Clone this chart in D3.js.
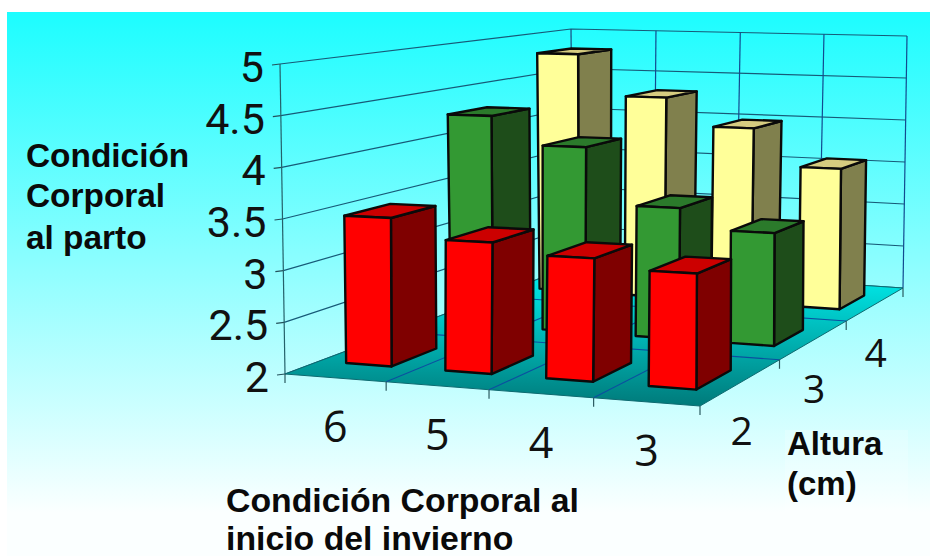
<!DOCTYPE html>
<html><head><meta charset="utf-8">
<style>html,body{margin:0;padding:0;background:#fff}svg{display:block}</style>
<script src="https://cdn.jsdelivr.net/npm/d3@7/dist/d3.min.js"></script>
</head><body>
<svg id="c" width="930" height="556"></svg>
<script>
const categories = ["6","5","4","3"];
const alturas = ["2","3","4"];
const valuesAltura2 = [3.46,3.27,3.17,3.08];
const valuesAltura3 = [4.27,3.97,3.37,3.16];
const valuesAltura4 = [4.80,4.32,4.00,3.58];
const valueTicks = [2,2.5,3,3.5,4,4.5,5];
const yTitle = ["Condición","Corporal","al parto"];
const xTitle = ["Condición Corporal al","inicio del invierno"];
const zTitle = ["Altura","(cm)"];

const series = [valuesAltura2,valuesAltura3,valuesAltura4];
const palette = [
 {front:"#ff0000",side:"#7f0000",top:"#cc0000"},
 {front:"#339933",side:"#1e4d1a",top:"#2b7a2b"},
 {front:"#ffff99",side:"#80804d",top:"#d6cc80"}];

function homography(q){ // unit square -> quad (00,10,11,01)
  const [[x0,y0],[x1,y1],[x2,y2],[x3,y3]]=q;
  const dx1=x1-x2,dx2=x3-x2,sx=x0-x1+x2-x3,dy1=y1-y2,dy2=y3-y2,sy=y0-y1+y2-y3;
  const den=dx1*dy2-dx2*dy1;
  const g=(sx*dy2-dx2*sy)/den,h=(dx1*sy-sx*dy1)/den;
  const a=x1-x0+g*x1,b=x3-x0+h*x3,c=x0,d=y1-y0+g*y1,e=y3-y0+h*y3,f=y0;
  return (u,v)=>{const w=g*u+h*v+1;return [(a*u+b*v+c)/w,(d*u+e*v+f)/w];};
}
const floorH = homography([[285,374],[700,406],[903,288],[573,266]]);
const topH   = homography([[280,64],[701,72],[907,36],[571,29]]);

const xBand = d3.scaleBand().domain(categories).range([0,1]).paddingInner(0.54).paddingOuter(0.27);
const zBand = d3.scaleBand().domain(alturas).range([0,1]).paddingInner(0.58).paddingOuter(0.29);
const xEdge = d3.scaleLinear().domain([0,categories.length]).range([0,1]);
const zEdge = d3.scaleLinear().domain([0,alturas.length]).range([0,1]);
const h01 = d3.scaleLinear().domain([2,5]).range([0,1]);
function P(u,d,val){
  const a=floorH(u,d),b=topH(u,d),t=h01(val);
  return [a[0]+(b[0]-a[0])*t,a[1]+(b[1]-a[1])*t];
}
const line=d3.line();
const svg=d3.select("#c");
const defs=svg.append("defs");
const bg=defs.append("linearGradient").attr("id","bg").attr("x1",0).attr("x2",0).attr("y1",0).attr("y2",1);
bg.append("stop").attr("offset",0).attr("stop-color","#1cfdff");
bg.append("stop").attr("offset",0.92).attr("stop-color","#fbffff");
const fl=defs.append("linearGradient").attr("id","fl").attr("gradientUnits","userSpaceOnUse").attr("x1",0).attr("x2",0).attr("y1",266).attr("y2",406);
fl.append("stop").attr("offset",0).attr("stop-color","#00f2f2");
fl.append("stop").attr("offset",1).attr("stop-color","#007a7a");

svg.append("rect").attr("x",7).attr("y",12).attr("width",923).attr("height",544).attr("fill","url(#bg)");
svg.append("rect").attr("x",785).attr("y",430).attr("width",123).attr("height",102).attr("fill","#fff").attr("opacity",0.2);

const gridCol="#175a78";
const grid=svg.append("g").attr("fill","none").attr("stroke",gridCol).attr("stroke-width",1.2);
grid.selectAll("path.v").data(valueTicks).join("path").attr("class","v")
  .attr("d",v=>line([P(0,0,v),P(0,1,v),P(1,1,v)]));
grid.selectAll("line.tick").data(valueTicks).join("line").attr("class","tick")
  .attr("x1",v=>P(0,0,v)[0]-8).attr("y1",v=>P(0,0,v)[1]+1)
  .attr("x2",v=>P(0,0,v)[0]).attr("y2",v=>P(0,0,v)[1]).attr("stroke","#24505a");
grid.append("path").attr("d",line([P(0,0,2),P(0,0,5)])).attr("stroke","#24606a");
grid.append("path").attr("d",line([P(0,1,2),P(0,1,5)])).attr("stroke","#1a4a80");
grid.selectAll("path.vb").data(d3.range(1,categories.length+1)).join("path").attr("class","vb")
  .attr("stroke","#124a90")
  .attr("d",i=>line([P(xEdge(i),1,2),P(xEdge(i),1,5)]));

svg.append("path").attr("d",line([P(0,0,2),P(1,0,2),P(1,1,2),P(0,1,2)])+"Z").attr("fill","url(#fl)").attr("stroke","#0d6a70").attr("stroke-width",1);
const fg=svg.append("g").attr("fill","none").attr("stroke","#0b4fa0").attr("stroke-width",1.1);
fg.selectAll("path.a").data(d3.range(1,categories.length)).join("path").attr("class","a")
  .attr("d",i=>line([P(xEdge(i),0,2),P(xEdge(i),1,2)]));
fg.selectAll("path.b").data(d3.range(1,alturas.length)).join("path").attr("class","b")
  .attr("d",i=>line([P(0,zEdge(i),2),P(1,zEdge(i),2)]));
const tg=svg.append("g").attr("stroke","#2a5a60").attr("stroke-width",1.2);
d3.range(0,categories.length+1).forEach(i=>{const p=P(xEdge(i),0,2);tg.append("line").attr("x1",p[0]).attr("y1",p[1]).attr("x2",p[0]).attr("y2",p[1]+9);});
d3.range(1,alturas.length+1).forEach(i=>{const p=P(1,zEdge(i),2);tg.append("line").attr("x1",p[0]).attr("y1",p[1]).attr("x2",p[0]).attr("y2",p[1]+9);});

const barG=svg.append("g").attr("stroke","#0a0a0a").attr("stroke-width",2.4).attr("stroke-linejoin","round");
for(let zi=alturas.length-1;zi>=0;zi--){
  const z0=zBand(alturas[zi]),z1=z0+zBand.bandwidth();
  categories.forEach((cat,ci)=>{
    const u0=xBand(cat),u1=u0+xBand.bandwidth(),val=series[zi][ci],col=palette[zi];
    barG.append("path").attr("fill",col.side).attr("d",line([P(u1,z0,2),P(u1,z1,2),P(u1,z1,val),P(u1,z0,val)])+"Z");
    barG.append("path").attr("fill",col.top).attr("d",line([P(u0,z0,val),P(u1,z0,val),P(u1,z1,val),P(u0,z1,val)])+"Z");
    barG.append("path").attr("fill",col.front).attr("d",line([P(u0,z0,2),P(u1,z0,2),P(u1,z0,val),P(u0,z0,val)])+"Z");
  });
}

const numFont='"Open Sans",sans-serif';
svg.append("g").attr("font-family","Roboto,sans-serif").attr("font-size",43).attr("fill","#111").attr("text-anchor","end")
  .selectAll("text").data(valueTicks).join("text")
  .attr("x",v=>P(0,0,v)[0]-16).attr("y",v=>P(0,0,v)[1]+18).text(v=>v);
const xc=c=>xBand(c)+xBand.bandwidth()/2, zc=c=>zBand(c)+zBand.bandwidth()/2;
svg.append("g").attr("font-family",numFont).attr("font-size",43).attr("fill","#111").attr("text-anchor","middle")
  .selectAll("text").data(categories).join("text")
  .attr("x",c=>P(xc(c),0,2)[0]).attr("y",c=>P(xc(c),0,2)[1]+64).text(c=>c);
svg.append("g").attr("font-family",numFont).attr("font-size",39).attr("fill","#111").attr("text-anchor","middle")
  .selectAll("text").data(alturas).join("text")
  .attr("x",c=>P(1,zc(c),2)[0]).attr("y",c=>P(1,zc(c),2)[1]+63).text(c=>c);

function title(lines,x,ys,fs){
  svg.append("g").attr("font-family",'"Liberation Sans",Arial,sans-serif').attr("font-weight","bold").attr("font-size",fs).attr("fill","#0a0a0a")
   .selectAll("text").data(lines).join("text").attr("x",x).attr("y",(d,i)=>ys[i]).text(d=>d);
}
title(yTitle,26,[167,207,249],33.4);
title(xTitle,226,[512,550],33.8);
title(zTitle,787,[455,495],33);
</script>
</body></html>
